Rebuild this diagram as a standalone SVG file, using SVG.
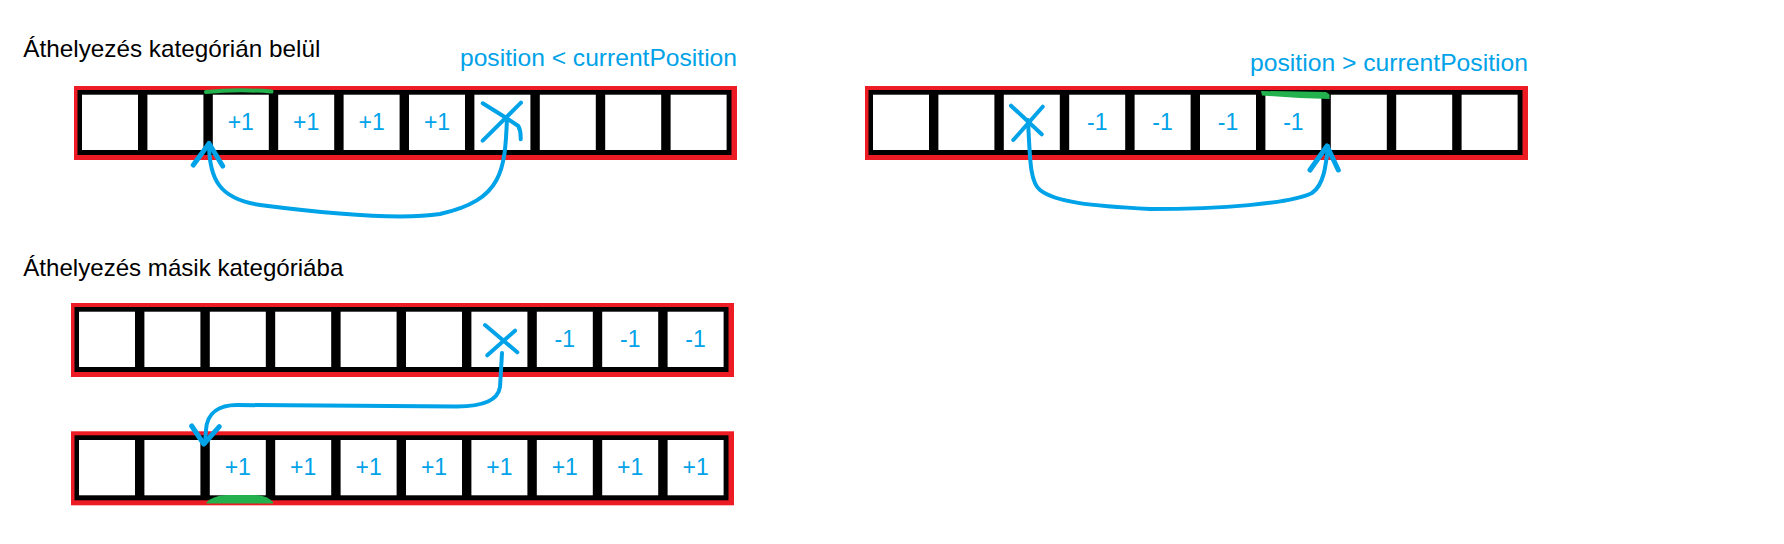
<svg xmlns="http://www.w3.org/2000/svg" xmlns:xlink="http://www.w3.org/1999/xlink" width="1784" height="544" viewBox="0 0 1784 544">
<style>
.bg{fill:#fff}
.red{fill:#ED1C24}
.blk{fill:#000}
.cell{fill:#fff}
.title{font-family:"Liberation Sans",Arial,sans-serif;font-size:24px;fill:#000}
.cond{font-family:"Liberation Sans",Arial,sans-serif;font-size:24px;fill:#00A2E8;text-anchor:end}
.ct{font-family:"Liberation Sans",Arial,sans-serif;font-size:23px;fill:#00A2E8;text-anchor:middle}
.conn{fill:none;stroke:#00A2E8;stroke-width:4;stroke-linecap:round;stroke-linejoin:round}
.head{fill:none;stroke:#00A2E8;stroke-width:5;stroke-linecap:round;stroke-linejoin:round}
.grn{fill:none;stroke:#22B14C;stroke-width:4;stroke-linecap:round}
.grnf{fill:#22B14C}
</style>
<defs>
<g id="bar">
<rect class="red" x="74" y="86" width="663" height="74"/>
<rect class="blk" x="77.5" y="90" width="654" height="65"/>
<rect class="cell" x="82" y="94.7" width="56" height="55.3"/>
<rect class="cell" x="147.4" y="94.7" width="56" height="55.3"/>
<rect class="cell" x="212.8" y="94.7" width="56" height="55.3"/>
<rect class="cell" x="278.2" y="94.7" width="56" height="55.3"/>
<rect class="cell" x="343.6" y="94.7" width="56" height="55.3"/>
<rect class="cell" x="409" y="94.7" width="56" height="55.3"/>
<rect class="cell" x="474.4" y="94.7" width="56" height="55.3"/>
<rect class="cell" x="539.8" y="94.7" width="56" height="55.3"/>
<rect class="cell" x="605.2" y="94.7" width="56" height="55.3"/>
<rect class="cell" x="670.6" y="94.7" width="56" height="55.3"/>
</g>
</defs>
<rect class="bg" x="0" y="0" width="1784" height="544"/>

<g id="title-within">
<text class="title" x="23.3" y="56.7" textLength="297" lengthAdjust="spacingAndGlyphs">Áthelyezés kategórián belül</text>
</g>
<g id="title-other">
<text class="title" x="23.3" y="275.7" textLength="320" lengthAdjust="spacingAndGlyphs">Áthelyezés másik kategóriába</text>
</g>

<g id="panel-within-left">
<use xlink:href="#bar" href="#bar"/>
<text class="ct" x="240.8" y="129.5">+1</text>
<text class="ct" x="306.2" y="129.5">+1</text>
<text class="ct" x="371.6" y="129.5">+1</text>
<text class="ct" x="437" y="129.5">+1</text>
<text class="cond" x="737" y="65.7" textLength="277" lengthAdjust="spacingAndGlyphs">position &lt; currentPosition</text>
<path class="grn" d="M206,92 Q238,89 271.5,91.5"/>
</g>

<g id="panel-within-right">
<g transform="translate(791,0)">
<use xlink:href="#bar" href="#bar"/>
<text class="ct" x="306.2" y="129.5">-1</text>
<text class="ct" x="371.6" y="129.5">-1</text>
<text class="ct" x="437" y="129.5">-1</text>
<text class="ct" x="502.4" y="129.5">-1</text>
</g>
<text class="cond" x="1528" y="71.3" textLength="278" lengthAdjust="spacingAndGlyphs">position &gt; currentPosition</text>
<path class="grnf" d="M1261,91 L1300,91.5 L1326,92 L1329.5,94.5 L1329.5,99 L1300,98 L1262,95.5 Z"/>
</g>

<g id="panel-source">
<g transform="translate(-3,217)">
<use xlink:href="#bar" href="#bar"/>
<text class="ct" x="567.8" y="129.5">-1</text>
<text class="ct" x="633.2" y="129.5">-1</text>
<text class="ct" x="698.6" y="129.5">-1</text>
</g>
</g>

<g id="panel-target">
<g transform="translate(-3,345.3)">
<use xlink:href="#bar" href="#bar"/>
<text class="ct" x="240.8" y="129.5">+1</text>
<text class="ct" x="306.2" y="129.5">+1</text>
<text class="ct" x="371.6" y="129.5">+1</text>
<text class="ct" x="437" y="129.5">+1</text>
<text class="ct" x="502.4" y="129.5">+1</text>
<text class="ct" x="567.8" y="129.5">+1</text>
<text class="ct" x="633.2" y="129.5">+1</text>
<text class="ct" x="698.6" y="129.5">+1</text>
</g>
<path class="grnf" d="M206.5,502.5 Q212,496 226,495 L256,495 Q268,496 273,502 L273,503.5 L206.5,503.5 Z"/>
</g>

<g id="connectors">
<!-- X marks -->
<path class="conn" d="M482.7,103.3 L506.7,118.3 L518.3,126 Q521,131 520.7,139.3"/>
<path class="conn" d="M521,102.7 L482.7,140.7"/>
<path class="conn" d="M1011,105.7 L1041.7,134.3"/>
<path class="conn" d="M1042.7,106.7 L1013.3,140"/>
<path class="conn" d="M485,325 L517.3,352.3"/>
<path class="conn" d="M515,330.7 L487.3,355.3"/>
<!-- within category, position < currentPosition -->
<path class="conn" d="M507,118 C505,170 503,200 440,214 C400,220 330,214 260,205 C220,199 209,180 209,143"/>
<path class="head" d="M193.3,165 L209,143.5 L222.7,166"/>
<!-- within category, position > currentPosition -->
<path class="conn" d="M1028,120 C1030,160 1030,182 1040,190 C1055,202 1090,206 1150,209 C1220,209 1290,204 1312,193 C1324,185 1326,165 1328,146"/>
<path class="head" d="M1310,170 L1327,146 L1338.3,170"/>
<!-- other category -->
<path class="conn" d="M502,353 L500,387 C498,400 485,406.5 457,406.5 L237,405 C220,405 207,412 206,430 L205,443"/>
<path class="head" d="M191.7,426 L203.8,444 L219.3,426.7"/>
</g>
</svg>
